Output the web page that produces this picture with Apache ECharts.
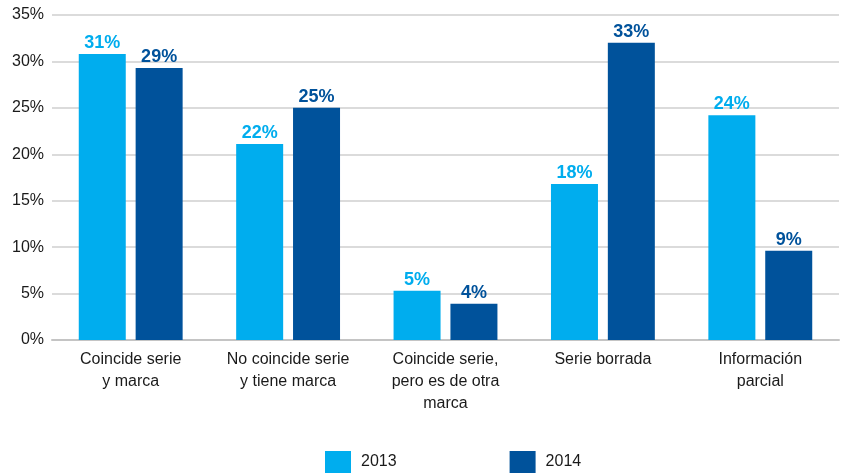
<!DOCTYPE html>
<html>
<head>
<meta charset="utf-8">
<script src="https://cdn.jsdelivr.net/npm/echarts@6/dist/echarts.min.js"></script>
<style>
  html, body { margin: 0; padding: 0; background: #fff; }
  #chart { width: 844px; height: 473px; }
</style>
</head>
<body>
<div id="chart"></div>
<script>
"use strict";

var categories = ['Coincide serie\ny marca', 'No coincide serie\ny tiene marca', 'Coincide serie,\npero es de otra\nmarca', 'Serie borrada', 'Información\nparcial'];
var values2013 = [30.8, 21.1, 5.3, 16.8, 24.2];
var values2014 = [29.3, 25.0, 3.9, 32.0, 9.6];
var labels2013 = ['31%', '22%', '5%', '18%', '24%'];
var labels2014 = ['29%', '25%', '4%', '33%', '9%'];
var yTicks = [0, 5, 10, 15, 20, 25, 30, 35];

var font = 'Liberation Sans';

var chart = echarts.init(document.getElementById('chart'));

function barLabel(labels, color) {
    return {
        show: true,
        position: 'top',
        distance: 2,
        fontFamily: font,
        fontWeight: 'bold',
        fontSize: 18,
        color: color,
        formatter: function (p) { return labels[p.dataIndex]; }
    };
}

chart.setOption({
    animation: false,
    grid: {
        top: 15,
        bottom: 133,
        left: 52,
        right: 5
    },
    legend: {
        top: 451,
        left: 325,
        padding: 0,
        itemWidth: 26,
        itemHeight: 22,
        itemGap: 113,
        icon: 'rect',
        textStyle: { fontFamily: font, fontSize: 16, color: '#1a1a1a', padding: [0, 0, 0, 5] },
        data: ['2013', '2014']
    },
    xAxis: {
        type: 'category',
        data: categories,
        axisTick: { show: false },
        axisLine: { lineStyle: { color: '#c4c4c4', width: 2 } },
        axisLabel: {
            interval: 0,
            margin: 9,
            fontFamily: font,
            fontSize: 16,
            lineHeight: 22,
            color: '#1a1a1a'
        }
    },
    yAxis: {
        type: 'value',
        min: yTicks[0],
        max: yTicks[yTicks.length - 1],
        interval: 5,
        axisLine: { show: false },
        axisTick: { show: false },
        splitLine: { lineStyle: { color: '#cfcfcf', width: 1.5 } },
        axisLabel: {
            margin: 8,
            fontFamily: font,
            fontSize: 16,
            color: '#1a1a1a',
            formatter: '{value}%'
        }
    },
    series: [{
        name: '2013',
        type: 'bar',
        barWidth: 47,
        barGap: '21%',
        itemStyle: { color: '#00adee' },
        label: barLabel(labels2013, '#00adee'),
        data: values2013
    }, {
        name: '2014',
        type: 'bar',
        barWidth: 47,
        barGap: '21%',
        itemStyle: { color: '#00529b' },
        label: barLabel(labels2014, '#00529b'),
        data: values2014
    }]
});
</script>
</body>
</html>
